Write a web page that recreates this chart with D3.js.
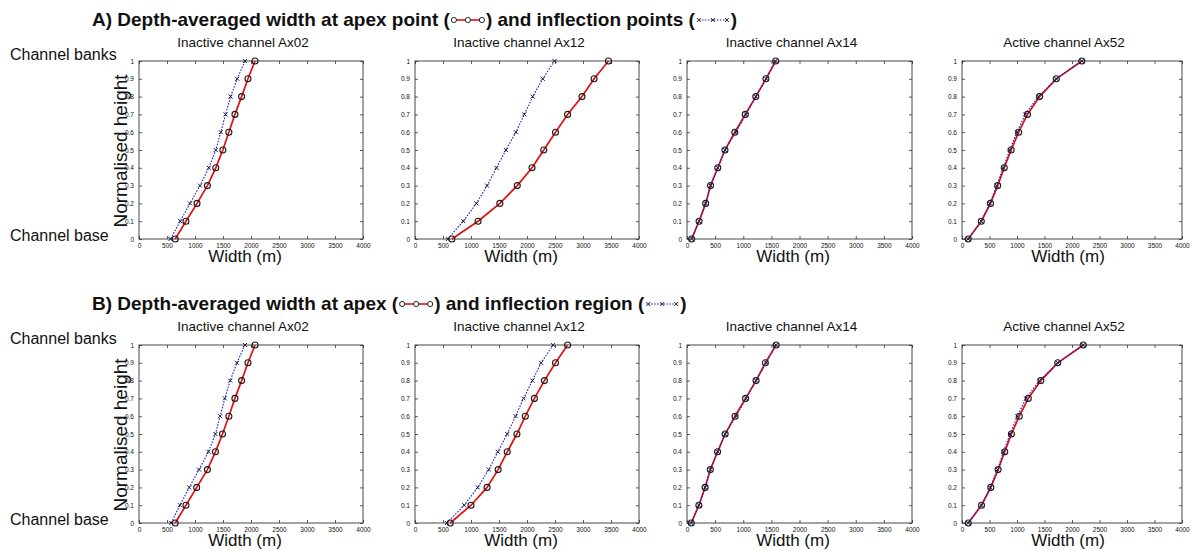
<!DOCTYPE html>
<html>
<head>
<meta charset="utf-8">
<script src="https://cdn.jsdelivr.net/npm/d3@7"></script>
<style>
  body { margin: 0; background: #fff; }
  svg { display: block; }
  text { font-family: "Liberation Sans", Arial, Helvetica, sans-serif; fill: #111; }
</style>
</head>
<body>
<svg id="chart" width="1192" height="551"></svg>
<script>
// Normalised height levels (0 = channel base, 1 = channel banks)
const heights = [0, 0.1, 0.2, 0.3, 0.4, 0.5, 0.6, 0.7, 0.8, 0.9, 1];
const channels = ["Inactive channel Ax02", "Inactive channel Ax12", "Inactive channel Ax14", "Active channel Ax52"];
const xTicks = [0, 500, 1000, 1500, 2000, 2500, 3000, 3500, 4000];
const yTicks = [0, 0.1, 0.2, 0.3, 0.4, 0.5, 0.6, 0.7, 0.8, 0.9, 1];

// A) width (m) at the apex point, one list per channel
const apexPointA = [
  [647, 838, 1036, 1222, 1371, 1497, 1605, 1713, 1832, 1946, 2072],
  [658, 1126, 1515, 1826, 2090, 2299, 2509, 2725, 2982, 3198, 3455],
  [82, 215, 332, 419, 547, 675, 850, 1036, 1223, 1403, 1578],
  [113, 351, 518, 649, 768, 893, 1030, 1190, 1411, 1714, 2179]
];
// A) width (m) at the inflection points
const inflectionPointsA = [
  [563, 737, 910, 1090, 1246, 1371, 1461, 1545, 1635, 1754, 1892],
  [587, 862, 1096, 1287, 1455, 1623, 1802, 1952, 2102, 2281, 2491],
  [82, 215, 332, 419, 547, 675, 868, 1050, 1223, 1410, 1570],
  [113, 351, 506, 631, 750, 869, 1000, 1149, 1387, 1714, 2179]
];
// B) width (m) at the apex
const apexB = [
  [647, 838, 1030, 1222, 1365, 1491, 1605, 1713, 1832, 1946, 2072],
  [629, 1000, 1287, 1485, 1647, 1820, 1970, 2132, 2311, 2509, 2725],
  [76, 211, 322, 415, 544, 678, 854, 1041, 1228, 1392, 1585],
  [114, 355, 524, 657, 777, 898, 1042, 1205, 1434, 1741, 2205]
];
// B) width (m) over the inflection region
const inflectionRegionB = [
  [575, 731, 898, 1072, 1240, 1365, 1449, 1533, 1629, 1749, 1892],
  [569, 880, 1120, 1317, 1479, 1647, 1796, 1940, 2096, 2251, 2467],
  [76, 211, 322, 415, 544, 678, 872, 1053, 1228, 1410, 1578],
  [114, 355, 512, 645, 753, 873, 1006, 1163, 1410, 1741, 2205]
];

const svg = d3.select("#chart");
const RED = "#e01010", BLUE = "#1f1fd0";

const panelLeft = [139, 415, 687, 962];
const panelW = [224, 224, 225, 220];
const panelH = 178;
const rows = [
  { top: 61, titleY: 26, label: "A) Depth-averaged width at apex point (", mid: " ) and inflection points (",
    apex: apexPointA, infl: inflectionPointsA },
  { top: 345, titleY: 310, label: "B) Depth-averaged width at apex (", mid: " ) and inflection region (",
    apex: apexB, infl: inflectionRegionB }
];

function redGlyph(g, x, y) {
  g.append("line").attr("x1", x).attr("x2", x + 28).attr("y1", y).attr("y2", y)
    .attr("stroke", RED).attr("stroke-width", 1.6);
  [0, 14, 28].forEach(d => g.append("circle").attr("cx", x + d).attr("cy", y).attr("r", 2.6)
    .attr("fill", "#fff").attr("stroke", "#222").attr("stroke-width", 1));
}
function blueGlyph(g, x, y) {
  g.append("line").attr("x1", x).attr("x2", x + 28).attr("y1", y).attr("y2", y)
    .attr("stroke", BLUE).attr("stroke-width", 1).attr("stroke-dasharray", "1.5,1.5");
  [0, 14, 28].forEach(d => g.append("path")
    .attr("d", `M${x + d - 2},${y - 2}L${x + d + 2},${y + 2}M${x + d - 2},${y + 2}L${x + d + 2},${y - 2}`)
    .attr("stroke", "#222").attr("stroke-width", 1));
}

function drawTitle(row) {
  const g = svg.append("g");
  let x = 92;
  const y = row.titleY;
  const seg = (s) => {
    const t = g.append("text").attr("x", x).attr("y", y).attr("font-size", 19)
      .attr("font-weight", "bold").text(s);
    x += t.node().getComputedTextLength();
  };
  seg(row.label);
  x += 4; redGlyph(g, x, y - 6); x += 32;
  seg(row.mid);
  x += 4; blueGlyph(g, x, y - 6); x += 32;
  seg(" )");
}

function drawPanel(row, i) {
  const x0 = panelLeft[i], w = panelW[i], top = row.top;
  const x = d3.scaleLinear().domain([0, 4000]).range([x0, x0 + w]);
  const y = d3.scaleLinear().domain([0, 1]).range([top + panelH, top]);
  const g = svg.append("g");

  // box with inward ticks on all four sides
  g.append("rect").attr("x", x0).attr("y", top).attr("width", w).attr("height", panelH)
    .attr("fill", "none").attr("stroke", "#333").attr("stroke-width", 0.9);

  const styleAxis = (sel) => {
    sel.select(".domain").remove();
    sel.selectAll(".tick line").attr("stroke", "#333").attr("stroke-width", 0.8);
    sel.selectAll(".tick text").attr("font-size", 6.5).attr("fill", "#222");
  };
  g.append("g").attr("transform", `translate(0,${top + panelH})`)
    .call(d3.axisBottom(x).tickValues(xTicks).tickSizeInner(-3).tickSizeOuter(0).tickPadding(4).tickFormat(d3.format("d")))
    .call(styleAxis);
  g.append("g").attr("transform", `translate(0,${top})`)
    .call(d3.axisTop(x).tickValues(xTicks).tickSizeInner(-3).tickSizeOuter(0).tickFormat(""))
    .call(styleAxis);
  g.append("g").attr("transform", `translate(${x0},0)`)
    .call(d3.axisLeft(y).tickValues(yTicks).tickSizeInner(-3).tickSizeOuter(0).tickPadding(5).tickFormat(d => d3.format("")(+d.toFixed(1))))
    .call(styleAxis);
  g.append("g").attr("transform", `translate(${x0 + w},0)`)
    .call(d3.axisRight(y).tickValues(yTicks).tickSizeInner(-3).tickSizeOuter(0).tickFormat(""))
    .call(styleAxis);

  const line = d3.line().x(d => x(d[0])).y(d => y(d[1]));
  const apex = row.apex[i].map((v, k) => [v, heights[k]]);
  const infl = row.infl[i].map((v, k) => [v, heights[k]]);

  g.append("path").datum(apex).attr("d", line).attr("fill", "none")
    .attr("stroke", RED).attr("stroke-width", 1.7);
  g.append("g").selectAll("circle").data(apex).join("circle")
    .attr("cx", d => x(d[0])).attr("cy", d => y(d[1])).attr("r", 3)
    .attr("fill", "none").attr("stroke", "#1a1a1a").attr("stroke-width", 1.1);

  g.append("path").datum(infl).attr("d", line).attr("fill", "none")
    .attr("stroke", BLUE).attr("stroke-width", 1.1).attr("stroke-dasharray", "1.6,1.4");
  g.append("g").selectAll("path").data(infl).join("path")
    .attr("d", d => { const cx = x(d[0]), cy = y(d[1]);
      return `M${cx - 2},${cy - 2}L${cx + 2},${cy + 2}M${cx - 2},${cy + 2}L${cx + 2},${cy - 2}`; })
    .attr("stroke", "#1a1a3a").attr("stroke-width", 1);

  // panel title and x label
  g.append("text").attr("x", x0 + w / 2 - 8).attr("y", row.titleY + 21).attr("text-anchor", "middle")
    .attr("font-size", 13.5).text(channels[i]);
  g.append("text").attr("x", x0 + 106).attr("y", top + panelH + 23).attr("text-anchor", "middle")
    .attr("font-size", 17).text("Width (m)");
}

rows.forEach(row => {
  drawTitle(row);
  channels.forEach((c, i) => drawPanel(row, i));
  svg.append("text").attr("x", 10).attr("y", row.top - 1).attr("font-size", 16).text("Channel banks");
  svg.append("text").attr("x", 10).attr("y", row.top + panelH + 2).attr("font-size", 16).text("Channel base");
  svg.append("text").attr("transform", `translate(127,${row.top + 90}) rotate(-90)`)
    .attr("text-anchor", "middle").attr("font-size", 19).text("Normalised height");
});
</script>
</body>
</html>
